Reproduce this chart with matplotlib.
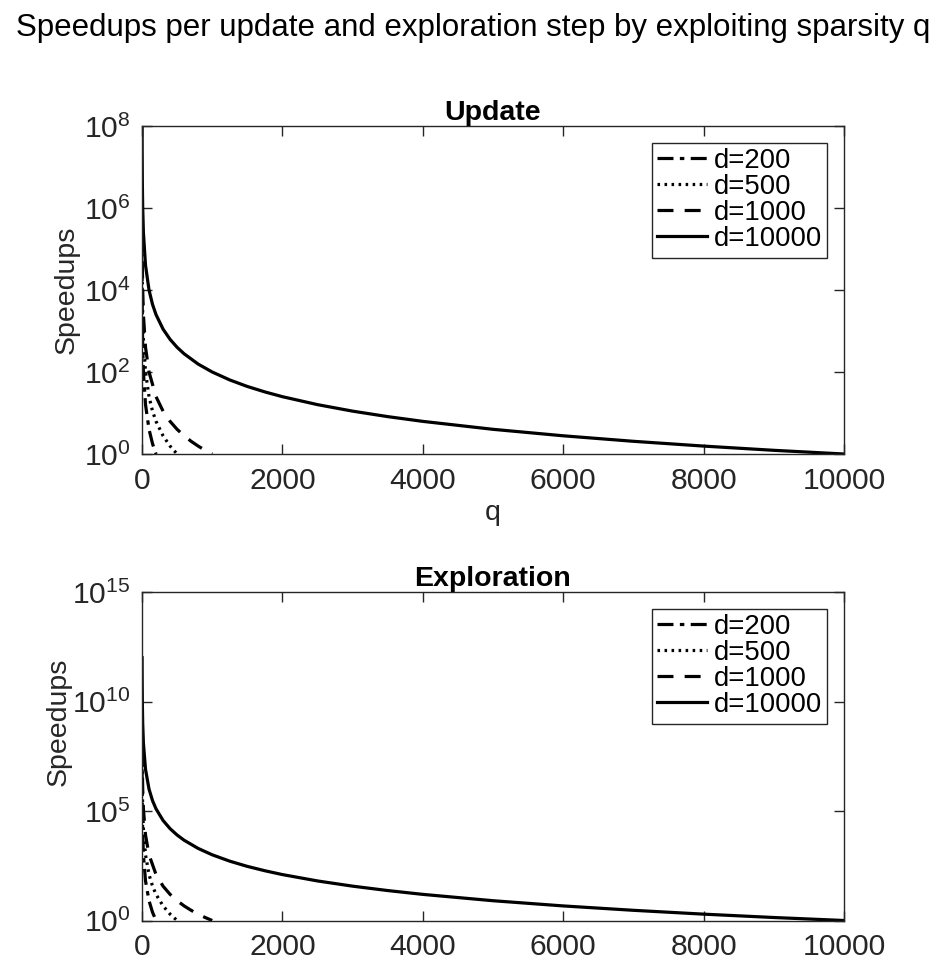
import matplotlib
matplotlib.use("Agg")
import matplotlib.pyplot as plt
from matplotlib.ticker import FixedLocator, NullLocator

plt.rcParams['font.family'] = ['Liberation Sans', 'DejaVu Sans']
plt.rcParams['mathtext.fontset'] = 'custom'
plt.rcParams['mathtext.rm'] = 'Liberation Sans'
plt.rcParams['mathtext.it'] = 'Liberation Sans:italic'
plt.rcParams['mathtext.bf'] = 'Liberation Sans:bold'

# ---------------- data ----------------
labels = ["d=200", "d=500", "d=1000", "d=10000"]

# Update panel
q_u200 = [1, 2, 5, 10, 20, 50, 100, 150, 200]
s_u200 = [4.0e4, 1.0e4, 1600, 400, 100, 16, 4, 1.78, 1]

q_u500 = [1, 2, 5, 10, 20, 50, 100, 150, 200, 300, 400, 500]
s_u500 = [2.5e5, 6.25e4, 1.0e4, 2500, 625, 100, 25, 11.1, 6.25, 2.78, 1.56, 1]

q_u1000 = [1, 2, 5, 10, 20, 50, 100, 200, 300, 400, 500, 600, 700, 800, 900, 1000]
s_u1000 = [1.0e6, 2.5e5, 4.0e4, 1.0e4, 2500, 400, 100, 25, 11.1, 6.25, 4, 2.78, 2.04, 1.56, 1.23, 1]

q_u10000 = [1, 2, 5, 10, 20, 50, 100, 150, 200, 300, 400, 500, 600, 800, 1000,
            1250, 1500, 1750, 2000, 2500, 3000, 3500, 4000, 5000, 6000, 7000,
            8000, 9000, 10000]
s_u10000 = [1.0e8, 2.5e7, 4.0e6, 1.0e6, 2.5e5, 4.0e4, 1.0e4, 4444, 2500, 1111, 625,
            400, 278, 156, 100, 64, 44.4, 32.7, 25, 16, 11.1, 8.16, 6.25, 4,
            2.78, 2.04, 1.56, 1.23, 1]

# Exploration panel
q_e200 = [1, 2, 5, 10, 20, 50, 100, 150, 200]
s_e200 = [8.0e6, 1.0e6, 6.4e4, 8000, 1000, 64, 8, 2.37, 1]

q_e500 = [1, 2, 5, 10, 20, 50, 100, 150, 200, 300, 400, 500]
s_e500 = [1.25e8, 1.56e7, 1.0e6, 1.25e5, 1.56e4, 1000, 125, 37, 15.6, 4.63, 1.95, 1]

q_e1000 = [1, 2, 5, 10, 20, 50, 100, 200, 300, 400, 500, 600, 700, 800, 900, 1000]
s_e1000 = [1.0e9, 1.25e8, 8.0e6, 1.0e6, 1.25e5, 8000, 1000, 125, 37, 15.6, 8, 4.63,
           2.92, 1.95, 1.37, 1]

q_e10000 = [1, 2, 5, 10, 20, 50, 100, 150, 200, 300, 400, 500, 600, 800, 1000,
            1250, 1500, 1750, 2000, 2500, 3000, 3500, 4000, 5000, 6000, 7000,
            8000, 9000, 10000]
s_e10000 = [1.0e12, 1.25e11, 8.0e9, 1.0e9, 1.25e8, 8.0e6, 1.0e6, 2.96e5, 1.25e5,
            3.7e4, 1.56e4, 8000, 4630, 1953, 1000, 512, 296, 187, 125, 64, 37,
            23.3, 15.6, 8, 4.63, 2.92, 1.95, 1.37, 1]

xticks = [0, 2000, 4000, 6000, 8000, 10000]
yticks_u = [1e0, 1e2, 1e4, 1e6, 1e8]
yticklabels_u = [r'$10^{0}$', r'$10^{2}$', r'$10^{4}$', r'$10^{6}$', r'$10^{8}$']
yticks_e = [1e0, 1e5, 1e10, 1e15]
yticklabels_e = [r'$10^{0}$', r'$10^{5}$', r'$10^{10}$', r'$10^{15}$']

# ---------------- figure ----------------
W, H = 937, 965
fig = plt.figure(figsize=(W / 100, H / 100), dpi=100)

def fpos(left, top, right, bottom):
    return [left / W, 1 - bottom / H, (right - left) / W, (bottom - top) / H]

ax1 = fig.add_axes(fpos(142, 126, 844, 454))
ax2 = fig.add_axes(fpos(142, 592, 844, 920.5))

styles = [
    dict(linestyle=(0, (5.0, 2.0, 1.4, 2.0))),
    dict(linestyle=(0, (0.8, 1.4))),
    dict(linestyle=(0, (5.0, 3.5))),
    dict(linestyle='-'),
]
lw = 2.3
gray = '#262626'
FS_TICK = 21.7
FS_LAB = 20.5

def style_axes(ax, yticks, yticklabels, ymax, title, ylab_x, ylab_y):
    ax.set_yscale('log')
    ax.set_xlim(0, 10000)
    ax.set_ylim(1, ymax)
    ax.xaxis.set_major_locator(FixedLocator(xticks))
    ax.set_xticklabels([str(t) for t in xticks])
    ax.yaxis.set_major_locator(FixedLocator(yticks))
    ax.set_yticklabels(yticklabels)
    ax.yaxis.set_minor_locator(NullLocator())
    ax.xaxis.set_minor_locator(NullLocator())
    ax.tick_params(axis='both', which='both', direction='in', top=True, right=True,
                   length=7, width=1.0, labelsize=FS_TICK, colors=gray, labelcolor=gray)
    ax.tick_params(axis='x', pad=9)
    ax.tick_params(axis='y', pad=8)
    for sp in ax.spines.values():
        sp.set_color(gray)
        sp.set_linewidth(1.0)
    ax.set_ylabel('Speedups', fontsize=FS_LAB, color=gray)
    ax.yaxis.set_label_coords((ylab_x - 142) / 702, ylab_y)
    ax.set_title(title, fontsize=20.5, fontweight='bold', color='black', pad=4)

series_u = [(q_u200, s_u200), (q_u500, s_u500), (q_u1000, s_u1000), (q_u10000, s_u10000)]
series_e = [(q_e200, s_e200), (q_e500, s_e500), (q_e1000, s_e1000), (q_e10000, s_e10000)]

for ax, series in ((ax1, series_u), (ax2, series_e)):
    for (q, s), st, lab in zip(series, styles, labels):
        ax.plot(q, s, color='black', linewidth=lw, label=lab, clip_on=True, **st)

style_axes(ax1, yticks_u, yticklabels_u, 1e8, 'Update', 80, 0.5)
style_axes(ax2, yticks_e, yticklabels_e, 1e15, 'Exploration', 72, (920.5 - 722) / 328.5)
ax1.set_xlabel('q', fontsize=FS_LAB, color=gray, labelpad=4)

for ax in (ax1, ax2):
    leg = ax.legend(loc='upper right', fontsize=19.8, frameon=True, fancybox=False,
                    edgecolor=gray, framealpha=1, borderpad=0.2, labelspacing=0.0,
                    handlelength=1.8, handletextpad=0.25, borderaxespad=0.6)
    leg.get_frame().set_linewidth(1.0)

fig.text(0.505, 1 - 28 / H, 'Speedups per update and exploration step by exploiting sparsity q',
         ha='center', va='center', fontsize=22.5, color='black')

fig.savefig('out.png', dpi=100)
